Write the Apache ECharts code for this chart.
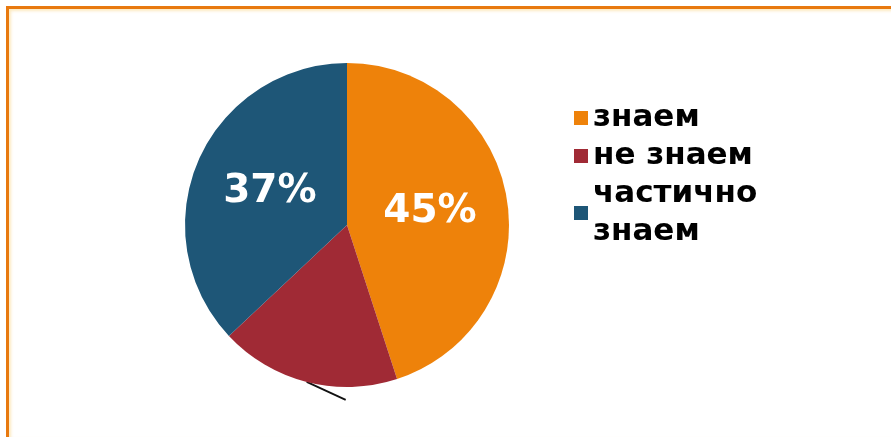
<!DOCTYPE html>
<html>
<head>
<meta charset="utf-8">
<script src="https://cdn.jsdelivr.net/npm/echarts@6/dist/echarts.min.js"></script>
<style>
  html, body { margin: 0; padding: 0; background: #ffffff; }
  #wrap { position: relative; width: 891px; height: 437px; overflow: hidden; background: #ffffff; }
  #frame {
    position: absolute; left: 6px; top: 6px; width: 900px; height: 428px;
    border-top: 3px solid #E8790F; border-left: 3px solid #E8790F;
    box-shadow: inset 2px 2px 3px rgba(250, 215, 140, 0.55);
    border-bottom: 2px solid #FFF3D9;
  }
  #chart { position: absolute; left: 0; top: 0; width: 891px; height: 437px; }
</style>
</head>
<body>
<div id="wrap">
  <div id="frame"></div>
  <div id="chart"></div>
</div>
<script>
// Answers and their shares, in percent
const categories = ['знаем', 'не знаем', 'частично\nзнаем'];
const shares = [45, 18, 37];
const colors = ['#EE820A', '#A02A35', '#1E5677'];
// Only these slices carry a printed percentage
const showValue = [true, false, true];

const chart = echarts.init(document.getElementById('chart'), null, { renderer: 'canvas' });

const data = categories.map((name, i) => ({
  name: name,
  value: shares[i],
  itemStyle: { color: colors[i] },
  label: showValue[i]
    ? { show: true, position: 'inside', formatter: '{c}%', color: '#ffffff',
        fontFamily: 'DejaVu Sans', fontWeight: 'bold', fontSize: 39 }
    : { show: true, position: 'outside', formatter: ' ', fontSize: 10 },
  labelLine: showValue[i]
    ? { show: false }
    : { show: true, length: 10, length2: 10, lineStyle: { color: '#111111', width: 1.8 } }
}));

chart.setOption({
  animation: false,
  legend: {
    orient: 'vertical',
    left: 569,
    top: 94,
    itemWidth: 14,
    itemHeight: 14,
    itemGap: 0,
    icon: 'rect',
    textStyle: { fontFamily: 'DejaVu Sans', fontWeight: 'bold', fontSize: 31, color: '#000000', lineHeight: 38 },
    data: categories
  },
  series: [{
    type: 'pie',
    center: [347, 225],
    radius: [0, 162],
    startAngle: 90,
    clockwise: true,
    silent: true,
    data: data,
    labelLayout: function (p) {
      // the slice without a printed value keeps only a short leader stroke
      if (p.dataIndex === 1 && p.labelLinePoints) {
        const s = p.labelLinePoints[0];
        return { labelLinePoints: [[s[0], s[1]], [s[0] + 39, s[1] + 18]] };
      }
      return {};
    }
  }]
});
</script>
</body>
</html>
